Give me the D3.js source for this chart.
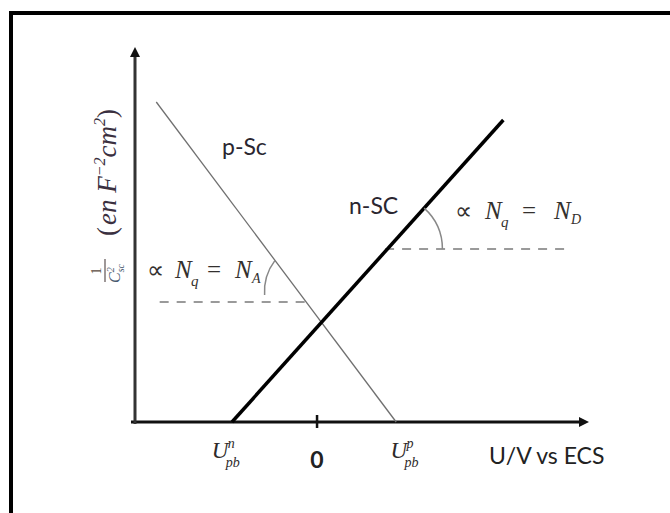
<!DOCTYPE html>
<html><head><meta charset="utf-8">
<script src="https://cdn.jsdelivr.net/npm/d3@7"></script>
<style>html,body{margin:0;padding:0;background:#fff;}svg{display:block;}</style>
</head><body>
<script>
// Data (U in arbitrary volts, Y = 1/C^2 arbitrary units)
const nSC = [{u: -1.0, v: 0}, {u: 2.19, v: 3.02}];
const pSC = [{u: -1.89, v: 3.2}, {u: 0.93, v: 0}];
const dashA = [{u: -1.85, v: 1.2}, {u: -0.12, v: 1.2}];
const dashD = [{u: 0.80, v: 1.73}, {u: 2.98, v: 1.73}];
const xTicks = [{u: -1.12, label: "n"}, {u: 0, label: "0"}, {u: 0.98, label: "p"}];
const xDomain = [-2.14, 3.15];
const yDomain = [0, 3.72];

const W = 670, H = 513;
const svg = d3.select("body").append("svg").attr("width", W).attr("height", H);
const x = d3.scaleLinear().domain(xDomain).range([135, 585]);
const y = d3.scaleLinear().domain(yDomain).range([422, 50]);

// frame
svg.append("path").attr("d", "M11,513 L11,13 L670,13").attr("fill", "none")
  .attr("stroke", "#000").attr("stroke-width", 4);

const line = d3.line().x(d => x(d.u)).y(d => y(d.v));

// dashed
[dashA, dashD].forEach(d => svg.append("path").attr("d", line(d)).attr("fill", "none")
  .attr("stroke", "#9a9a9a").attr("stroke-width", 2).attr("stroke-dasharray", "9,8"));

// axes
svg.append("line").attr("x1", x(xDomain[0]) - 4).attr("x2", x(xDomain[1])).attr("y1", y(0)).attr("y2", y(0))
  .attr("stroke", "#111").attr("stroke-width", 3);
svg.append("line").attr("x1", x(xDomain[0])).attr("x2", x(xDomain[0])).attr("y1", y(0) + 2).attr("y2", y(yDomain[1]) + 4)
  .attr("stroke", "#333").attr("stroke-width", 3);
svg.append("path").attr("d", `M${x(xDomain[1]) + 4},${y(0)} l-10,-5 l0,10 z`).attr("fill", "#111");
svg.append("path").attr("d", `M${x(xDomain[0])},${y(yDomain[1]) - 3} l-5,10 l10,0 z`).attr("fill", "#111");
svg.append("line").attr("x1", x(0)).attr("x2", x(0)).attr("y1", y(0) - 7).attr("y2", y(0) + 6)
  .attr("stroke", "#111").attr("stroke-width", 2.5);

// data lines
svg.append("path").attr("d", line(pSC)).attr("fill", "none").attr("stroke", "#707070").attr("stroke-width", 1.3);
svg.append("path").attr("d", line(nSC)).attr("fill", "none").attr("stroke", "#000").attr("stroke-width", 3.5);

// angle arcs
function interU(seg, v) { const [a, b] = seg; return a.u + (v - a.v) * (b.u - a.u) / (b.v - a.v); }
const cD = [x(interU(nSC, dashD[0].v)), y(dashD[0].v)];
const cA = [x(interU(pSC, dashA[0].v)), y(dashA[0].v)];
function angOf(seg) { return Math.atan2(y(seg[1].v) - y(seg[0].v), x(seg[1].u) - x(seg[0].u)); }
const aN = angOf(nSC);
const rD = 55;
svg.append("path").attr("d", `M${cD[0] + rD * Math.cos(aN)},${cD[1] + rD * Math.sin(aN)} A${rD},${rD} 0 0 1 ${cD[0] + rD},${cD[1]}`)
  .attr("fill", "none").attr("stroke", "#888").attr("stroke-width", 1.5);
const aP = angOf([pSC[1], pSC[0]]);
const rA = 52;
svg.append("path").attr("d", `M${cA[0] + rA * Math.cos(aP)},${cA[1] + rA * Math.sin(aP)} A${rA},${rA} 0 0 0 ${cA[0] - rA * 0.8},${cA[1] - 7}`)
  .attr("fill", "none").attr("stroke", "#888").attr("stroke-width", 1.5);

const sans = "Lato, 'Open Sans', 'Liberation Sans', sans-serif";
const serif = "'Liberation Serif', 'DejaVu Serif', serif";
const tc = "#2a2630";

// line labels
svg.append("text").attr("x", 222).attr("y", 155).attr("font-family", sans).attr("font-size", 23).attr("fill", tc).text("p-Sc");
svg.append("text").attr("x", 349).attr("y", 214).attr("font-family", sans).attr("font-size", 23).attr("fill", tc).text("n-SC");

function propLabel(x0, y0, sub, off) {
  const t = svg.append("text").attr("y", y0).attr("font-family", serif).attr("font-size", 25).attr("fill", "#33302e");
  t.append("tspan").attr("x", x0).attr("font-family", "'DejaVu Sans', sans-serif").attr("font-size", 24).text("∝");
  t.append("tspan").attr("x", x0 + off[0]).attr("font-style", "italic").text("N");
  t.append("tspan").attr("x", x0 + off[0] + 16).attr("dy", 8).attr("font-size", 15).attr("font-style", "italic").text("q");
  t.append("tspan").attr("x", x0 + off[1]).attr("dy", -8).text("=");
  t.append("tspan").attr("x", x0 + off[2]).attr("font-style", "italic").text("N");
  t.append("tspan").attr("x", x0 + off[2] + 17).attr("dy", 5).attr("font-size", 14).attr("font-style", "italic").text(sub);
}
propLabel(455, 219, "D", [30, 67, 99]);
propLabel(147, 278, "A", [28, 60, 88]);

// tick labels
function uLabel(cx, sup) {
  const t = svg.append("text").attr("y", 458).attr("font-family", serif).attr("font-size", 23).attr("fill", "#2e2a2a");
  t.append("tspan").attr("x", cx - 14).attr("font-style", "italic").text("U");
  t.append("tspan").attr("x", cx + 2).attr("dy", -10).attr("font-size", 14).attr("font-style", "italic").text(sup);
  t.append("tspan").attr("x", cx + 0).attr("dy", 19).attr("font-size", 14).attr("font-style", "italic").text("pb");
}
xTicks.forEach(t => {
  if (t.label === "0") {
    svg.append("text").attr("x", x(t.u)).attr("y", 468).attr("text-anchor", "middle").attr("font-family", sans)
      .attr("font-size", 23).attr("font-weight", "bold").attr("fill", "#222").text("0");
  } else {
    uLabel(x(t.u) + 4, t.label);
  }
});
svg.append("text").attr("x", 489).attr("y", 464).attr("font-family", sans).attr("font-size", 23).attr("fill", "#222").text("U/V vs ECS");

// y label (rotated)
const g = svg.append("g").attr("transform", "translate(108,284) rotate(-90)");
g.append("text").attr("x", 13).attr("y", -7).attr("font-family", serif).attr("font-size", 14).attr("fill", "#5a4a40").attr("text-anchor", "middle").text("1");
g.append("line").attr("x1", 2).attr("x2", 25).attr("y1", -3).attr("y2", -3).attr("stroke", "#6a6060").attr("stroke-width", 1.3);
const cl = g.append("text").attr("x", 1).attr("y", 12).attr("font-family", serif).attr("font-size", 16).attr("font-style", "italic").attr("fill", "#4a5a70");
cl.append("tspan").text("C");
cl.append("tspan").attr("dy", -6).attr("font-size", 10).text("2");
cl.append("tspan").attr("dx", -5).attr("dy", 10).attr("font-size", 10).text("sc");
const yl = g.append("text").attr("x", 48).attr("y", 8).attr("font-family", serif).attr("font-size", 27).attr("fill", "#3a3040");
yl.append("tspan").text("(");
yl.append("tspan").attr("dx", 2).attr("font-style", "italic").text("en F");
yl.append("tspan").attr("dy", -11).attr("font-size", 16).attr("font-style", "italic").text("−2");
yl.append("tspan").attr("dy", 11).attr("font-style", "italic").text("cm");
yl.append("tspan").attr("dy", -11).attr("font-size", 16).attr("font-style", "italic").text("2");
yl.append("tspan").attr("dy", 11).text(")");
</script>
</body></html>
